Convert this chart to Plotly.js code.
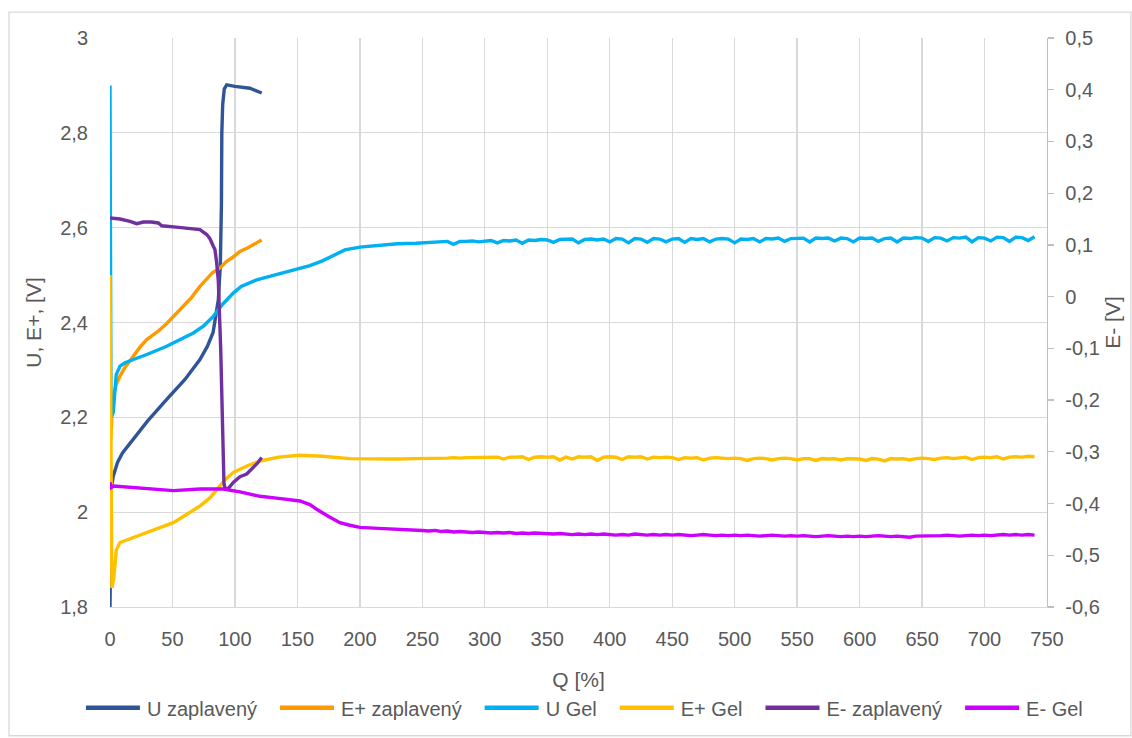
<!DOCTYPE html>
<html>
<head>
<meta charset="utf-8">
<script src="https://cdn.plot.ly/plotly-3.0.1.min.js"></script>
<style>html,body{margin:0;padding:0;background:#fff}#chart{width:1132px;height:738px}</style>
</head>
<body>
<div id="chart"></div>
<script>
// ---- data ----
const seriesNames = ['U zaplavený','E+ zaplavený','U Gel','E+ Gel','E- zaplavený','E- Gel'];

const qUZap = [0,0.5,1,2.6,6,10,18.7,30,45.4,60,72,78,82.5,86.7,88.3,89.2,89.5,90.2,91.5,93.4,100,112,121.4];
const uZap  = [1.8,1.93,2.05,2.076,2.105,2.125,2.154,2.192,2.238,2.28,2.322,2.35,2.379,2.448,2.52,2.65,2.8,2.86,2.893,2.901,2.898,2.894,2.884];

const qEpZap = [0,0.5,1.5,2.6,5,8,12,18.7,24,29.4,35,38.7,45,56,65,72,77.4,82,88,93.4,98,104,110,116,121.4];
const epZap  = [2.2,2.15,2.2,2.245,2.27,2.287,2.305,2.329,2.348,2.364,2.375,2.382,2.397,2.427,2.452,2.476,2.491,2.505,2.515,2.529,2.537,2.55,2.557,2.565,2.574];

const qEnZap = [0,8,16,21.4,26.7,33,38.7,41.4,55,66.7,72,77.4,80,82.7,84,85.4,86.7,88.6,90.2,91.2,92,94.7,98.7,104,109.4,114.7,118,121.4];
const enZap  = [0.152,0.150,0.1455,0.141,0.1443,0.1443,0.1424,0.137,0.134,0.131,0.1295,0.12,0.112,0.0973,0.091,0.065,0.03,-0.10,-0.295,-0.36,-0.371,-0.371,-0.359,-0.348,-0.343,-0.33,-0.322,-0.311];

const qUGelHead = [0,0.3,0.8,2.6,5,8,12,18.7,30,45.4,55,66.7,75,82.7,90,98.7,105,117.4,130,140,152,160,170,180,188,200,215,230,245];
const uGelHead  = [2.9,2.5,2.2,2.21,2.29,2.308,2.315,2.322,2.333,2.35,2.362,2.378,2.393,2.413,2.438,2.462,2.476,2.49,2.499,2.506,2.514,2.52,2.53,2.543,2.553,2.559,2.563,2.566,2.567];

const qEpGelHead = [0,0.5,1.5,3,5,8,18.7,35,50.7,60,72,80,85.4,92,98.7,110,120,135,152,170,192,210,230,245];
const epGelHead  = [2.5,2.1,1.84,1.86,1.92,1.936,1.947,1.962,1.978,1.993,2.013,2.03,2.048,2.068,2.084,2.098,2.108,2.116,2.12,2.118,2.113,2.112,2.112,2.113];

const qEnGelHead = [0,1,3,8,25,50.7,72,90.7,105,120,135,152,160,165.4,175,184,192,200,215,229.5,245];
const enGelHead  = [-0.359,-0.369,-0.366,-0.367,-0.371,-0.375,-0.372,-0.372,-0.378,-0.386,-0.39,-0.395,-0.402,-0.411,-0.425,-0.437,-0.442,-0.446,-0.448,-0.449,-0.451];

const qGelTail = [250,255,260,265,270,275,280,285,290,295,
  300,305,310,315,320,325,330,335,340,345,
  350,355,360,365,370,375,380,385,390,395,
  400,405,410,415,420,425,430,435,440,445,
  450,455,460,465,470,475,480,485,490,495,
  500,505,510,515,520,525,530,535,540,545,
  550,555,560,565,570,575,580,585,590,595,
  600,605,610,615,620,625,630,635,640,645,
  650,655,660,665,670,675,680,685,690,695,
  700,705,710,715,720,725,730,735,740];

const uGelTail = [2.568,2.569,2.569,2.570,2.571,2.565,2.571,2.571,2.572,2.570,
  2.572,2.573,2.568,2.573,2.572,2.574,2.567,2.574,2.573,2.575,
  2.574,2.569,2.575,2.575,2.576,2.568,2.575,2.576,2.574,2.576,
  2.570,2.577,2.576,2.568,2.577,2.576,2.569,2.577,2.576,2.570,
  2.576,2.577,2.569,2.577,2.575,2.577,2.570,2.576,2.577,2.576,
  2.568,2.576,2.575,2.577,2.570,2.577,2.576,2.578,2.571,2.577,
  2.577,2.578,2.570,2.578,2.577,2.578,2.572,2.578,2.577,2.570,
  2.578,2.577,2.578,2.571,2.577,2.578,2.570,2.578,2.577,2.579,
  2.578,2.571,2.579,2.578,2.572,2.579,2.578,2.580,2.570,2.579,
  2.578,2.572,2.580,2.579,2.571,2.580,2.579,2.573,2.581];

const epGelTail = [2.113,2.113,2.114,2.114,2.114,2.115,2.114,2.115,2.115,2.115,
  2.116,2.115,2.116,2.112,2.116,2.116,2.117,2.111,2.116,2.117,
  2.116,2.117,2.110,2.116,2.112,2.117,2.116,2.117,2.109,2.116,
  2.117,2.116,2.111,2.117,2.116,2.117,2.112,2.116,2.115,2.116,
  2.115,2.111,2.115,2.114,2.115,2.110,2.114,2.115,2.114,2.113,
  2.114,2.113,2.109,2.113,2.114,2.113,2.110,2.113,2.114,2.113,
  2.110,2.113,2.113,2.109,2.113,2.112,2.113,2.110,2.113,2.113,
  2.112,2.109,2.113,2.112,2.108,2.113,2.112,2.113,2.110,2.113,
  2.114,2.113,2.111,2.114,2.115,2.113,2.115,2.116,2.111,2.115,
  2.116,2.115,2.117,2.112,2.116,2.117,2.116,2.118,2.117];

const enGelTail = [-0.452,-0.453,-0.452,-0.454,-0.453,-0.455,-0.454,-0.455,-0.456,-0.455,
  -0.456,-0.457,-0.456,-0.457,-0.456,-0.458,-0.457,-0.458,-0.457,-0.458,
  -0.458,-0.459,-0.458,-0.459,-0.460,-0.459,-0.460,-0.459,-0.460,-0.459,
  -0.460,-0.461,-0.460,-0.461,-0.459,-0.460,-0.461,-0.460,-0.461,-0.460,
  -0.461,-0.460,-0.461,-0.462,-0.461,-0.460,-0.461,-0.462,-0.461,-0.462,
  -0.461,-0.462,-0.461,-0.462,-0.463,-0.462,-0.461,-0.462,-0.463,-0.462,
  -0.463,-0.462,-0.463,-0.464,-0.463,-0.462,-0.463,-0.464,-0.463,-0.464,
  -0.463,-0.464,-0.463,-0.462,-0.463,-0.464,-0.463,-0.464,-0.465,-0.463,
  -0.463,-0.462,-0.463,-0.462,-0.461,-0.462,-0.463,-0.462,-0.461,-0.462,
  -0.461,-0.462,-0.461,-0.460,-0.461,-0.460,-0.461,-0.460,-0.461];

const xTickVals = [0,50,100,150,200,250,300,350,400,450,500,550,600,650,700,750];
const yLeftTickVals = [1.8,2,2.2,2.4,2.6,2.8,3];
const yLeftTickText = ['1,8','2','2,2','2,4','2,6','2,8','3'];
const yRightTickVals = [-0.6,-0.5,-0.4,-0.3,-0.2,-0.1,0,0.1,0.2,0.3,0.4,0.5];
const yRightTickText = ['-0,6','-0,5','-0,4','-0,3','-0,2','-0,1','0','0,1','0,2','0,3','0,4','0,5'];

const colors = ['#2F5597','#FF9900','#00B0F0','#FFC000','#7030A0','#CC00FF'];

// ---- traces ----
const lw = 3.4;
const traces = [
  {x:qUZap, y:uZap, name:seriesNames[0], line:{color:colors[0],width:lw}, yaxis:'y'},
  {x:qEpZap, y:epZap, name:seriesNames[1], line:{color:colors[1],width:lw}, yaxis:'y'},
  {x:qUGelHead.concat(qGelTail), y:uGelHead.concat(uGelTail), name:seriesNames[2], line:{color:colors[2],width:lw}, yaxis:'y'},
  {x:qEpGelHead.concat(qGelTail), y:epGelHead.concat(epGelTail), name:seriesNames[3], line:{color:colors[3],width:lw}, yaxis:'y'},
  {x:qEnZap, y:enZap, name:seriesNames[4], line:{color:colors[4],width:lw}, yaxis:'y2'},
  {x:qEnGelHead.concat(qGelTail), y:enGelHead.concat(enGelTail), name:seriesNames[5], line:{color:colors[5],width:lw}, yaxis:'y2'}
].map(t => Object.assign({type:'scatter', mode:'lines', hoverinfo:'skip'}, t));

const fam = 'Liberation Sans, Arial, sans-serif';
const font = {family:fam, size:20, color:'#595959'};
const titleFont = {family:fam, size:21, color:'#595959'};
const grid = '#D9D9D9';

const layout = {
  width:1132, height:738,
  margin:{l:110, r:85, t:38, b:130},
  paper_bgcolor:'#fff', plot_bgcolor:'#fff',
  font:font,
  separators:', ',
  showlegend:true,
  legend:{orientation:'h', x:-0.0374, xanchor:'left', y:-0.175, yanchor:'middle',
    font:font, itemwidth:56, tracegroupgap:0, bgcolor:'rgba(0,0,0,0)'},
  xaxis:{
    range:[0,750], tickmode:'array', tickvals:xTickVals,
    showgrid:true, gridcolor:grid, gridwidth:1.3, zeroline:false,
    showline:true, linecolor:grid, linewidth:1.3, ticks:'',
    tickfont:font, ticklabelstandoff:14,
    title:{text:'Q [%]', font:titleFont, standoff:23}
  },
  yaxis:{
    range:[1.8,3], tickmode:'array', tickvals:yLeftTickVals, ticktext:yLeftTickText,
    showgrid:true, gridcolor:grid, gridwidth:1.3, zeroline:false, showline:false, ticks:'',
    tickfont:font, ticklabelstandoff:21,
    title:{text:'U, E+, [V]', font:titleFont, standoff:12}
  },
  yaxis2:{
    range:[-0.6,0.5], overlaying:'y', side:'right', tickmode:'array', tickvals:yRightTickVals, ticktext:yRightTickText,
    showgrid:false, zeroline:false, showline:true, linecolor:'#BFBFBF', linewidth:1.3,
    ticks:'outside', ticklen:6, tickcolor:'#BFBFBF', tickwidth:1.3,
    tickfont:font, ticklabelstandoff:7,
    title:{text:'E- [V]', font:titleFont, standoff:6}
  },
  shapes:[{type:'rect', xref:'paper', yref:'paper', x0:-0.1078, x1:1.0896, y0:-0.2263, y1:1.0456,
    line:{color:grid, width:1.3}, fillcolor:'rgba(0,0,0,0)', layer:'below'}]
};

Plotly.newPlot('chart', traces, layout, {displayModeBar:false, staticPlot:true}).then(gd => {
  // legend styling: longer swatches and wider spacing, as in the reference
  const sb = gd.querySelector('.legend .scrollbox');
  if (sb) sb.removeAttribute('clip-path');
  gd.querySelectorAll('.legend .traces').forEach((g, i) => {
    const tr = g.getAttribute('transform') || '';
    const m = /translate\(\s*([-\d.e]+)[ ,]+([-\d.e]+)\s*\)/.exec(tr);
    if (m) {
      const nx = parseFloat(m[1]) + 13 * i + 3;
      g.setAttribute('transform', 'translate(' + nx + ',' + m[2] + ')');
    }
    const p = g.querySelector('.legendlines path');
    if (p) { p.setAttribute('d', 'M8,0h54'); p.style.strokeWidth = '4.5px'; }
    const t = g.querySelector('text.legendtext');
    if (t) t.setAttribute('x', (parseFloat(t.getAttribute('x')) || 0) + 3);
  });
});
</script>
</body>
</html>
